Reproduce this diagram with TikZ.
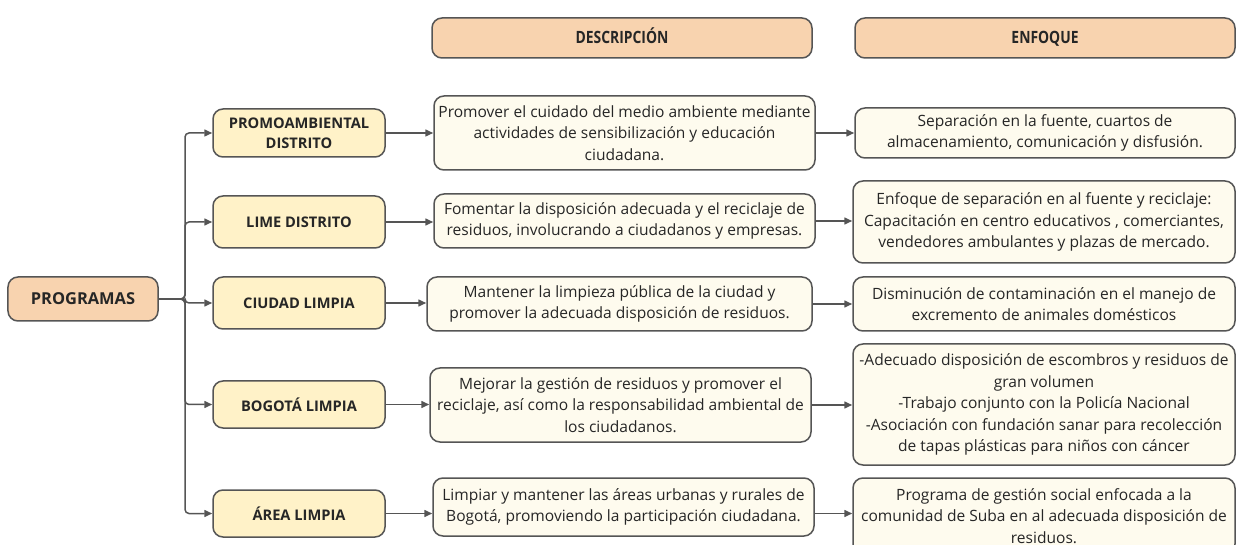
\documentclass[tikz,border=0pt]{standalone}
\usepackage{fontspec}
\setmainfont{Open Sans}
\newfontfamily\hdfont{Open Sans}[FakeStretch=0.82]
\usetikzlibrary{arrows.meta}
\definecolor{peach}{HTML}{F8D3AF}
\definecolor{yel}{HTML}{FFF2C8}
\definecolor{cream}{HTML}{FEFBEE}
\definecolor{edge}{HTML}{555555}
\definecolor{txt}{HTML}{262626}
\tikzset{
  base/.style={draw=edge, line width=1.5bp, rounded corners=10bp, text=txt, inner sep=2bp, align=center},
  hdbox/.style={base, fill=peach, text height=13bp, text depth=1bp, font=\hdfont\bfseries\fontsize{17}{20}\selectfont},
  rootbox/.style={base, fill=peach, font=\bfseries\fontsize{16.5}{20}\selectfont},
  progbox/.style={base, fill=yel, font=\bfseries\fontsize{14.7}{20}\selectfont},
  descbox/.style={base, fill=cream, font=\fontsize{15.6}{21.5}\selectfont},
  arr/.style={draw=edge, line width=1.5bp, -{Triangle[length=8bp,width=7bp]}},
}
\begin{document}
\begin{tikzpicture}[x=1bp,y=-1bp]
\useasboundingbox[fill=white] (0,0) rectangle (1236,545);
% headers
\node[hdbox, minimum width=380bp, minimum height=40bp] (hd1) at (622,38) {DESCRIPCIÓN};
\node[hdbox, minimum width=380bp, minimum height=40bp] (hd2) at (1045,38) {ENFOQUE};
% root
\node[rootbox, minimum width=150bp, minimum height=44bp] (P) at (83,299) {PROGRAMAS};
% programs
\node[progbox, minimum width=172bp, minimum height=48bp] (L1) at (299,133) {PROMOAMBIENTAL\\DISTRITO};
\node[progbox, minimum width=172bp, minimum height=52bp] (L2) at (299,222) {LIME DISTRITO};
\node[progbox, minimum width=172bp, minimum height=52bp] (L3) at (299,303) {CIUDAD LIMPIA};
\node[progbox, minimum width=172bp, minimum height=47bp] (L4) at (299,404.5) {BOGOTÁ LIMPIA};
\node[progbox, minimum width=172bp, minimum height=47bp] (L5) at (299,513.5) {ÁREA LIMPIA};
% descriptions
\node[descbox, minimum width=381bp, minimum height=74bp] (M1) at (624.5,133) {Promover el cuidado del medio ambiente mediante\\actividades de sensibilización y educación\\ciudadana.};
\node[descbox, minimum width=381bp, minimum height=54bp] (M2) at (624.5,221) {Fomentar la disposición adecuada y el reciclaje de\\residuos, involucrando a ciudadanos y empresas.};
\node[descbox, minimum width=385bp, minimum height=54bp] (M3) at (619.5,304) {Mantener la limpieza pública de la ciudad y\\promover la adecuada disposición de residuos.};
\node[descbox, minimum width=381bp, minimum height=74bp] (M4) at (620.5,405) {Mejorar la gestión de residuos y promover el\\reciclaje, así como la responsabilidad ambiental de\\los ciudadanos.};
\node[descbox, minimum width=381bp, minimum height=58bp] (M5) at (623.5,507) {Limpiar y mantener las áreas urbanas y rurales de\\Bogotá, promoviendo la participación ciudadana.};
% focus
\node[descbox, minimum width=380bp, minimum height=50bp] (R1) at (1045,133) {Separación en la fuente, cuartos de\\almacenamiento, comunicación y disfusión.};
\node[descbox, minimum width=382bp, minimum height=82bp] (R2) at (1044,222) {Enfoque de separación en al fuente y reciclaje:\\Capacitación en centro educativos , comerciantes,\\vendedores ambulantes y plazas de mercado.};
\node[descbox, minimum width=382bp, minimum height=54bp] (R3) at (1044,304) {Disminución de contaminación en el manejo de\\excremento de animales domésticos};
\node[descbox, minimum width=382bp, minimum height=121bp] (R4) at (1044,404.5) {-Adecuado disposición de escombros y residuos de\\gran volumen\\-Trabajo conjunto con la Policía Nacional\\-Asociación con fundación sanar para recolección\\de tapas plásticas para niños con cáncer};
\node[descbox, minimum width=382bp, minimum height=76bp] (R5) at (1044,516) {Programa de gestión social enfocada a la\\comunidad de Suba en al adecuada disposición de\\residuos.};
% trunk
\coordinate (T) at (185,299);
\foreach \n in {L1,L2,L3,L4,L5}{
  \draw[arr, rounded corners=4bp] (P.east) -- (T) |- (\n.west);
}
% rows
\draw[arr] (L1.east) -- (L1.east -| M1.west);
\draw[arr] (L2.east) -- (L2.east -| M2.west);
\draw[arr] (L3.east) -- (L3.east -| M3.west);
\draw[arr] (L4.east) -- (L4.east -| M4.west);
\draw[arr] (L5.east) -- (L5.east -| M5.west);
\draw[arr] (M1.east) -- (M1.east -| R1.west);
\draw[arr] (M2.east) -- (M2.east -| R2.west);
\draw[arr] (M3.east) -- (M3.east -| R3.west);
\draw[arr] (M4.east) -- (M4.east -| R4.west);
\draw[arr] (L5.east -| M5.east) -- (L5.east -| R5.west);
\end{tikzpicture}
\end{document}
